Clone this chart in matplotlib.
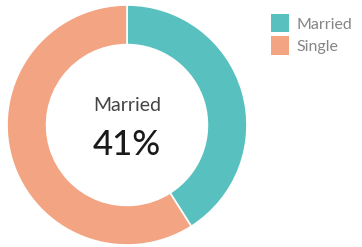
import matplotlib.pyplot as plt
from matplotlib.patches import Patch

labels = ['Married', 'Single']
shares = [41, 59]
colors = ['#58C1BF', '#F3A583']

plt.rcParams['font.family'] = ['Lato', 'DejaVu Sans']

fig = plt.figure(figsize=(3.62, 2.47), dpi=100)
ax = fig.add_axes([7 / 362, 2 / 247, 240 / 362, 240 / 247])

ax.pie(shares, colors=colors, startangle=90, counterclock=False, radius=1,
       wedgeprops=dict(width=0.33, edgecolor='white', linewidth=1.2))
ax.set_xlim(-1, 1)
ax.set_ylim(-1, 1)
ax.set_aspect('equal')

# centre label
ax.text(0, 0.16, labels[0], ha='center', va='center', fontsize=14, color='#444444')
ax.text(0, -0.165, f'{shares[0]}%', ha='center', va='center', fontsize=25,
        color='#1a1a1a', fontweight='medium')

handles = [Patch(facecolor=c, edgecolor='none') for c in colors]
fig.legend(handles, labels, loc='upper left', bbox_to_anchor=(271 / 362, 1 - 14 / 247),
           frameon=False, fontsize=11.5, labelcolor='#858585', borderpad=0, borderaxespad=0,
           handlelength=1.1, handleheight=1.4, handletextpad=0.5, labelspacing=0.25)

fig.savefig('out.png', dpi=100)
